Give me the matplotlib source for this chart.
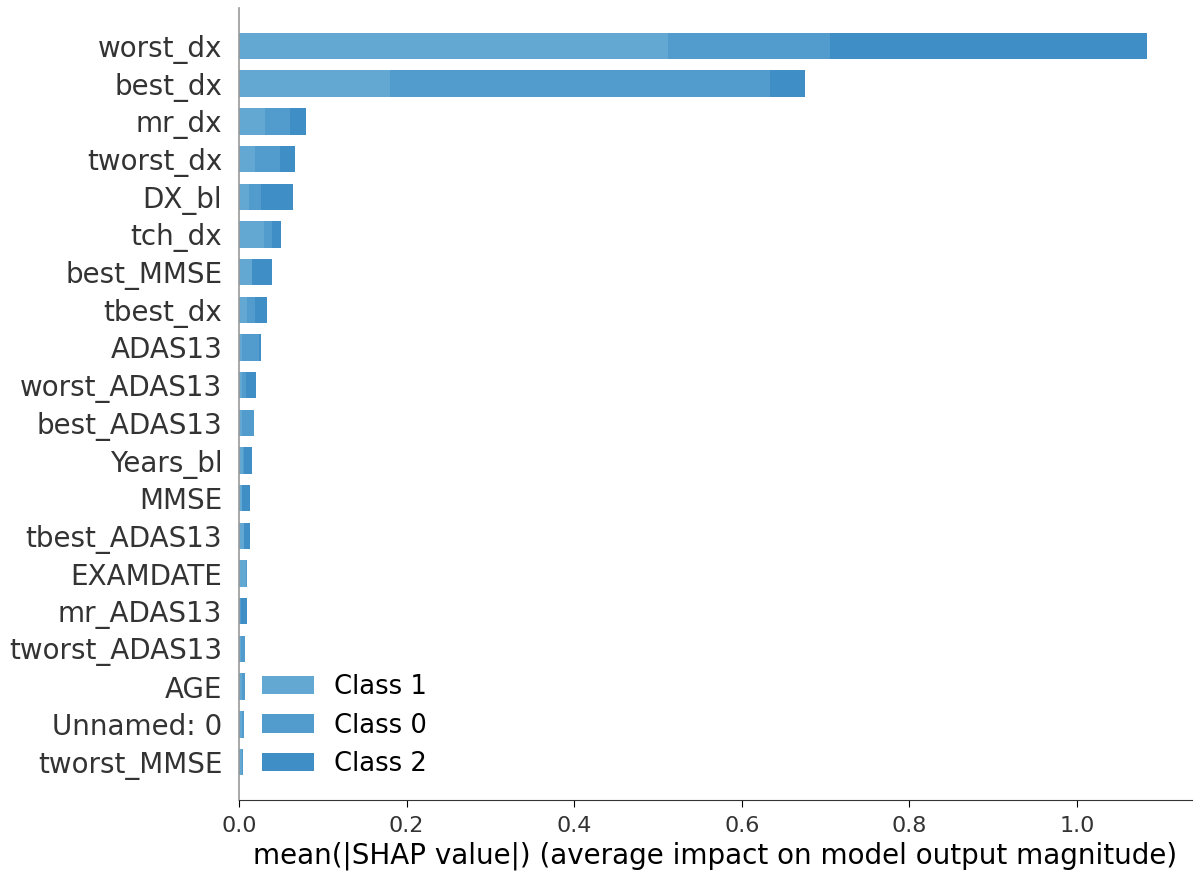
import matplotlib
matplotlib.use("Agg")
import matplotlib.pyplot as plt
import numpy as np

features = [
    "worst_dx", "best_dx", "mr_dx", "tworst_dx", "DX_bl", "tch_dx",
    "best_MMSE", "tbest_dx", "ADAS13", "worst_ADAS13", "best_ADAS13",
    "Years_bl", "MMSE", "tbest_ADAS13", "EXAMDATE", "mr_ADAS13",
    "tworst_ADAS13", "AGE", "Unnamed: 0", "tworst_MMSE",
]

# mean |SHAP| per feature for each class (stacked in this order)
class_1 = [0.512, 0.180, 0.031, 0.019, 0.012, 0.030, 0.015, 0.009, 0.003, 0.003,
           0.003, 0.005, 0.003, 0.006, 0.008, 0.001, 0.002, 0.003, 0.003, 0.003]
class_0 = [0.193, 0.454, 0.030, 0.030, 0.014, 0.009, 0.001, 0.010, 0.021, 0.005,
           0.015, 0.001, 0.001, 0.000, 0.0015, 0.001, 0.005, 0.0038, 0.0026, 0.002]
class_2 = [0.378, 0.041, 0.019, 0.018, 0.038, 0.011, 0.023, 0.015, 0.002, 0.012,
           0.000, 0.010, 0.0095, 0.007, 0.000, 0.007, 0.000, 0.000, 0.000, 0.000]

class_names = ["Class 1", "Class 0", "Class 2"]
class_colors = ["#63a8d3", "#529bcd", "#3f8ec6"]

fig = plt.figure(figsize=(11.95, 8.74), dpi=100)
ax = fig.add_axes([0.2, 0.085, 0.7975, 0.9055])

n = len(features)
y_pos = np.arange(n)[::-1]
left = np.zeros(n)
for vals, name, col in zip([class_1, class_0, class_2], class_names, class_colors):
    vals = np.array(vals)
    ax.barh(y_pos, vals, 0.7, left=left, align="center", color=col,
            label=name, linewidth=0)
    left += vals

ax.set_yticks(y_pos)
ax.set_yticklabels(features, fontsize=20, color="#333333")
ax.set_ylim(-1, n)
ax.tick_params(axis="y", length=0, pad=12)
ax.tick_params(axis="x", labelsize=16, labelcolor="#333333", length=5, pad=7)
ax.spines["right"].set_visible(False)
ax.spines["top"].set_visible(False)
ax.spines["left"].set_color("#999999")
ax.spines["left"].set_linewidth(1.2)
ax.spines["bottom"].set_color("#333333")
ax.set_xlabel("mean(|SHAP value|) (average impact on model output magnitude)",
              fontsize=20, labelpad=4)

ax.legend(frameon=False, fontsize=18.6, loc="lower left",
          bbox_to_anchor=(0.0, 0.0), handlelength=2.0, handletextpad=0.77,
          labelspacing=0.47, borderaxespad=0.49)

fig.savefig("out.png", dpi=100)
